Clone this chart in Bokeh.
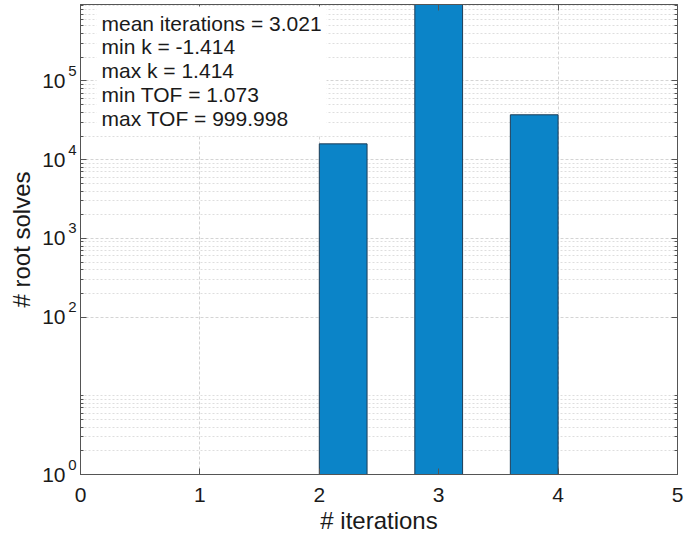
from bokeh.plotting import figure
from bokeh.models import FixedTicker, LinearAxis, LogAxis, Label
from bokeh.embed import file_html
from bokeh.resources import INLINE

# Histogram of solver iteration counts (bins of width 0.4)
bin_left = [2.0, 2.8, 3.6]
bin_right = [2.4, 3.2, 4.0]
counts = [15900, 946900, 37200]

x_ticks = [0, 1, 2, 3, 4, 5]
y_ticks = [1, 100, 1000, 10000, 100000]
y_tick_base = ["10", "10", "10", "10", "10"]
y_exponents = ["0", "2", "3", "4", "5"]
y_minor = [m * 10 ** d for d in (0,) for m in range(2, 11)] + \
          [m * 10 ** d for d in (2, 3, 4, 5) for m in range(2, 10)]
y_max = 10 ** 5.972

stats_lines = [
    "mean iterations = 3.021",
    "min k = -1.414",
    "max k = 1.414",
    "min TOF = 1.073",
    "max TOF = 999.998",
]

FONT = "Liberation Sans"
AXIS_COLOR = "#555555"
TEXT_COLOR = "#1a1a1a"
EXP_RAISE = 10 ** 0.127   # lifts each exponent above its "10"

p = figure(width=686, height=538, y_axis_type="log",
           x_range=(0, 5), y_range=(1, y_max),
           output_backend="svg", toolbar_location=None,
           min_border_left=80, min_border_right=9,
           min_border_top=4, min_border_bottom=64,
           background_fill_color="white", border_fill_color="white")
p.outline_line_color = AXIS_COLOR

xt = FixedTicker(ticks=x_ticks, minor_ticks=[])
yt = FixedTicker(ticks=y_ticks, minor_ticks=y_minor)


def tick_style(ax):
    ax.axis_line_color = AXIS_COLOR
    ax.major_tick_line_color = AXIS_COLOR
    ax.minor_tick_line_color = AXIS_COLOR
    ax.major_tick_in = 6
    ax.major_tick_out = 0
    ax.minor_tick_in = 3
    ax.minor_tick_out = 0


def hide_lines(ax):
    ax.axis_line_color = None
    ax.major_tick_line_color = None
    ax.minor_tick_line_color = None
    ax.major_tick_in = 0
    ax.major_tick_out = 0
    ax.minor_tick_in = 0
    ax.minor_tick_out = 0


def no_labels(ax):
    ax.major_label_text_font_size = "0px"
    ax.major_label_standoff = 0
    ax.major_label_text_alpha = 0


# bottom axis
xa = p.xaxis[0]
xa.ticker = xt
tick_style(xa)
xa.major_label_text_font = FONT
xa.major_label_text_font_size = "21px"
xa.major_label_text_color = TEXT_COLOR
xa.major_label_standoff = 13
xa.axis_label = "# iterations"
xa.axis_label_text_font = FONT
xa.axis_label_text_font_size = "24px"
xa.axis_label_text_font_style = "normal"
xa.axis_label_text_color = TEXT_COLOR
xa.axis_label_standoff = 2

# left: tick marks on the frame edge
ya = p.yaxis[0]
ya.ticker = yt
tick_style(ya)
no_labels(ya)

# left: exponents, set slightly above each decade
y_exp = LogAxis(ticker=FixedTicker(ticks=[v * EXP_RAISE for v in y_ticks],
                                   minor_ticks=[]))
hide_lines(y_exp)
y_exp.major_label_overrides = {v * EXP_RAISE: e for v, e in zip(y_ticks, y_exponents)}
y_exp.major_label_text_font = FONT
y_exp.major_label_text_font_size = "15px"
y_exp.major_label_text_color = TEXT_COLOR
y_exp.major_label_standoff = 4
p.add_layout(y_exp, "left")

# left: base "10" of each tick label and the axis title
y_base = LogAxis(ticker=yt)
hide_lines(y_base)
y_base.major_label_overrides = {v: b for v, b in zip(y_ticks, y_tick_base)}
y_base.major_label_text_font = FONT
y_base.major_label_text_font_size = "21px"
y_base.major_label_text_color = TEXT_COLOR
y_base.major_label_standoff = 0
y_base.axis_label = "# root solves"
y_base.axis_label_text_font = FONT
y_base.axis_label_text_font_size = "24px"
y_base.axis_label_text_font_style = "normal"
y_base.axis_label_text_color = TEXT_COLOR
y_base.axis_label_standoff = 4
p.add_layout(y_base, "left")

# top / right axes carry only the inward ticks
top = LinearAxis(ticker=xt)
right = LogAxis(ticker=yt)
for ax in (top, right):
    tick_style(ax)
    no_labels(ax)
p.add_layout(top, "above")
p.add_layout(right, "right")

# grids
p.xgrid.ticker = xt
p.ygrid.ticker = yt
for g in (p.xgrid, p.ygrid):
    g.grid_line_color = "#d4d4d4"
    g.grid_line_dash = "3 2"
p.ygrid.minor_grid_line_color = "#dedede"
p.ygrid.minor_grid_line_dash = "2 2"

# histogram bars
p.quad(left=bin_left, right=bin_right, bottom=1, top=counts,
       fill_color="#0b84c8", line_color="#1d3c56", line_width=1)

# statistics box
p.add_layout(Label(x=0, y=y_max, x_offset=16, y_offset=-2,
                   text="\n".join(stats_lines),
                   text_font=FONT, text_font_size="21px",
                   text_color=TEXT_COLOR, text_line_height=1.04,
                   text_align="left", text_baseline="top",
                   background_fill_color="white", padding=5))

open("out.html", "w").write(file_html(p, INLINE))
